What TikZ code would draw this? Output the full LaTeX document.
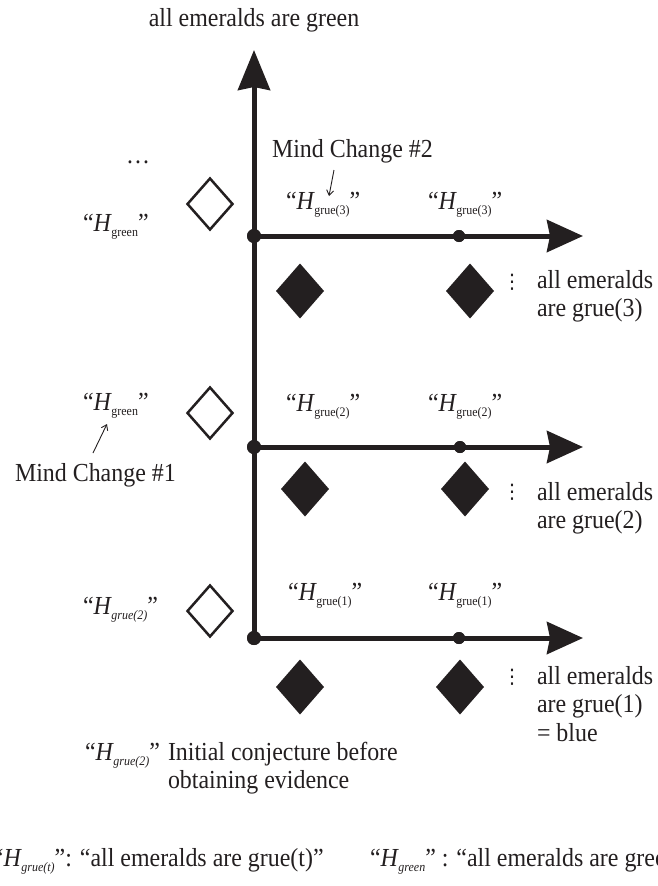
\documentclass[tikz,border=0pt]{standalone}
\usepackage{fontspec}
\setmainfont{Liberation Serif}[FakeStretch=0.92]
\newfontfamily\dvsans{DejaVu Sans}
\usetikzlibrary{arrows.meta,shapes.geometric}
\definecolor{ink}{HTML}{231F20}
\newcommand{\Hq}[1]{“\textit{H}\kern-0.5pt\raisebox{-5pt}{\fontsize{13}{13}\selectfont #1}”}
\newcommand{\vdotsglyph}{{\dvsans\fontsize{20}{20}\selectfont ⋮}}
\begin{document}
\begin{tikzpicture}[x=1pt,y=-1pt,
  every node/.style={inner sep=0pt,outer sep=0pt,text=ink,font=\fontsize{26}{28.5}\selectfont},
  lbl/.style={anchor=base west,align=left},
  clbl/.style={anchor=base},
  axisline/.style={draw=ink,line width=5pt},
  vtip/.style={-{Stealth[length=40pt,width=32pt,inset=3pt]}},
  htip/.style={-{Stealth[length=36pt,width=32pt,inset=3pt]}},
  bigdot/.style={circle,fill=ink,minimum size=14pt},
  smalldot/.style={circle,fill=ink,minimum size=12pt},
  hollowdia/.style={diamond,draw=ink,line width=2.5pt,fill=white,minimum width=45pt,minimum height=51pt},
  soliddia/.style={diamond,fill=ink,minimum width=48pt,minimum height=55pt},
  notearrow/.style={draw=ink,line width=0.9pt,-{Straight Barb[length=5pt,width=7pt]}}
]
\useasboundingbox (0,0) rectangle (657,886);

% title
\node[clbl] (title) at (254,27) {all emeralds are green};

% axis and branches
\coordinate (top) at (254,50);
\coordinate (e3) at (583,236);
\coordinate (e2) at (583,447);
\coordinate (e1) at (583,638);
\node[bigdot] (d3) at (254,236) {};
\node[bigdot] (d2) at (254,447) {};
\node[bigdot] (d1) at (254,638) {};
\node[smalldot] (m3) at (459,236) {};
\node[smalldot] (m2) at (460,447) {};
\node[smalldot] (m1) at (459,638) {};
\draw[axisline,vtip] (d1.center) -- (top);
\draw[axisline,htip] (d3.center) -- (e3);
\draw[axisline,htip] (d2.center) -- (e2);
\draw[axisline,htip] (d1.center) -- (e1);
\node[bigdot] at (d3) {};
\node[bigdot] at (d2) {};
\node[bigdot] at (d1) {};
\node[smalldot] at (m3) {};
\node[smalldot] at (m2) {};
\node[smalldot] at (m1) {};

% left column
\node[clbl] (dots) at (138,163) {…};
\node[lbl] (L3) at (83,231) {\Hq{green}};
\node[lbl] (L2) at (83,410) {\Hq{green}};
\node[lbl] (L1) at (83,614) {\Hq{\textit{grue(2)}}};
\node[hollowdia] (h3) at (210,204) {};
\node[hollowdia] (h2) at (210,413) {};
\node[hollowdia] (h1) at (210,611) {};

% hypothesis labels on branches
\node[lbl] (a3) at (286,209) {\Hq{grue(3)}};
\node[lbl] (b3) at (428,209) {\Hq{grue(3)}};
\node[lbl] (a2) at (286,411) {\Hq{grue(2)}};
\node[lbl] (b2) at (428,411) {\Hq{grue(2)}};
\node[lbl] (a1) at (288,600) {\Hq{grue(1)}};
\node[lbl] (b1) at (428,600) {\Hq{grue(1)}};

% filled diamonds
\node[soliddia] (s3a) at (300,291) {};
\node[soliddia] (s3b) at (470,291) {};
\node[soliddia] (s2a) at (305,489) {};
\node[soliddia] (s2b) at (465,489) {};
\node[soliddia] (s1a) at (300,687) {};
\node[soliddia] (s1b) at (460,687) {};

% vertical ellipses and outcomes
\node (v3) at (512,282) {\vdotsglyph};
\node (v2) at (512,492) {\vdotsglyph};
\node (v1) at (512,677) {\vdotsglyph};
\node[lbl] (o3) at (537,316.5) {all emeralds\\are grue(3)};
\node[lbl] (o2) at (537,528.5) {all emeralds\\are grue(2)};
\node[lbl] (o1) at (537,741) {all emeralds\\are grue(1)\\= blue};

% mind changes
\node[lbl] (mc2) at (272,157) {Mind Change \#2};
\coordinate (mc2from) at (334,170);
\coordinate (mc2to) at (329,196);
\draw[notearrow] (mc2from) -- (mc2to);
\node[lbl] (mc1) at (15,481) {Mind Change \#1};
\coordinate (mc1from) at (93,453);
\coordinate (mc1to) at (107,424);
\draw[notearrow] (mc1from) -- (mc1to);

% initial conjecture
\node[lbl] (init) at (85,760) {\Hq{\textit{grue(2)}}};
\node[lbl] (inittext) at (168,788.5) {Initial conjecture before\\obtaining evidence};

% legend
\node[lbl] (defgrue) at (-7,866) {\Hq{\textit{grue(t)}}: “all emeralds are grue(t)”};
\node[lbl] (defgreen) at (370,866) {\Hq{\textit{green}} : “all emeralds are green”};
\end{tikzpicture}
\end{document}
